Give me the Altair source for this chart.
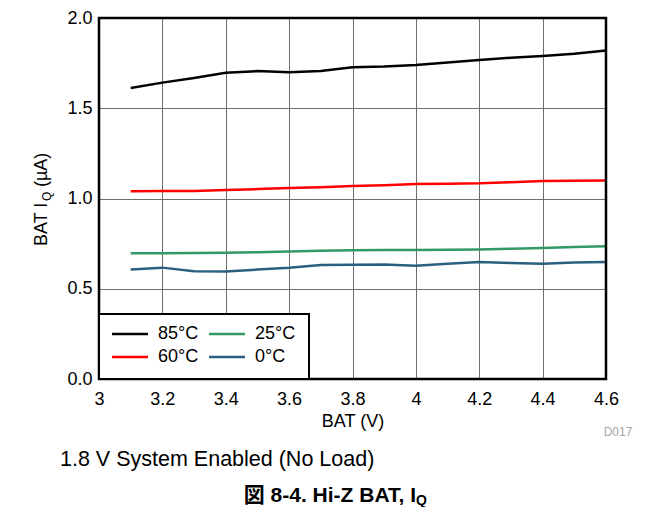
import altair as alt
import pandas as pd

# ---------------- data ----------------
bat_v = [3.1, 3.2, 3.3, 3.4, 3.5, 3.6, 3.7, 3.8, 3.9, 4.0, 4.1, 4.2, 4.3, 4.4, 4.5, 4.6]
iq_85 = [1.612, 1.642, 1.668, 1.697, 1.706, 1.700, 1.706, 1.727, 1.731, 1.740, 1.754, 1.767, 1.780, 1.790, 1.802, 1.820]
iq_60 = [1.040, 1.041, 1.042, 1.047, 1.052, 1.058, 1.063, 1.069, 1.073, 1.080, 1.082, 1.084, 1.090, 1.097, 1.098, 1.100]
iq_25 = [0.696, 0.697, 0.698, 0.700, 0.702, 0.707, 0.710, 0.713, 0.715, 0.715, 0.716, 0.718, 0.722, 0.726, 0.731, 0.735]
iq_0 = [0.606, 0.617, 0.597, 0.595, 0.606, 0.617, 0.632, 0.633, 0.635, 0.628, 0.639, 0.648, 0.643, 0.639, 0.646, 0.648]

temps = ["85°C", "25°C", "60°C", "0°C"]
colors = ["#000000", "#339966", "#ff0000", "#2b5f7f"]
x_ticks = [3, 3.2, 3.4, 3.6, 3.8, 4, 4.2, 4.4, 4.6]
y_ticks = [0, 0.5, 1.0, 1.5, 2.0]

series = {"85°C": iq_85, "60°C": iq_60, "25°C": iq_25, "0°C": iq_0}
rows = []
for name, vals in series.items():
    for v, i in zip(bat_v, vals):
        rows.append({"bat": v, "iq": i, "temp": name})
df = pd.DataFrame(rows)

FONT = "Liberation Sans, Arial, Helvetica, Noto Sans CJK JP, sans-serif"
W, H = 507, 361

# ---------------- main lines ----------------
lines = alt.Chart(df).mark_line(strokeWidth=2.5).encode(
    x=alt.X("bat:Q",
            scale=alt.Scale(domain=[x_ticks[0], x_ticks[-1]], nice=False, zero=False),
            axis=alt.Axis(values=x_ticks, format="~g", title="BAT (V)",
                          labelPadding=11, titlePadding=4, labelFlush=False)),
    y=alt.Y("iq:Q",
            scale=alt.Scale(domain=[y_ticks[0], y_ticks[-1]], nice=False),
            axis=alt.Axis(values=y_ticks, format=".1f", title=None, labelPadding=7)),
    color=alt.Color("temp:N", scale=alt.Scale(domain=temps, range=colors), legend=None),
)

anno = pd.DataFrame({"a": [0]})

frame = alt.Chart(anno).mark_rect(fill="transparent", stroke="black", strokeWidth=2.5).encode(
    x=alt.value(0), x2=alt.value(W), y=alt.value(0), y2=alt.value(H)
)

# ---------------- legend (manual box) ----------------
leg_box = alt.Chart(anno).mark_rect(fill="white", stroke="black", strokeWidth=2).encode(
    x=alt.value(0), x2=alt.value(210), y=alt.value(296), y2=alt.value(361)
)
leg_rows = []
for k, (t, c) in enumerate(zip(temps, colors)):
    col, row = k % 2, k // 2
    lx = 13 + 97 * col
    ly = 316 + 23 * row
    leg_rows.append({"temp": t, "color": c, "lx": lx, "lx2": lx + 36, "tx": lx + 46, "ly": ly})
leg_df = pd.DataFrame(leg_rows)
leg_sym = alt.Chart(leg_df).mark_rule(strokeWidth=2.5).encode(
    x=alt.X("lx:Q", scale=None), x2="lx2:Q", y=alt.Y("ly:Q", scale=None),
    color=alt.Color("color:N", scale=None),
)
leg_txt = alt.Chart(leg_df).mark_text(align="left", baseline="middle", fontSize=18, font=FONT, color="black").encode(
    x=alt.X("tx:Q", scale=None), y=alt.Y("ly:Q", scale=None), text="temp:N"
)


def label(text, x, y, size, weight="normal", align="left", angle=0, color="black"):
    return alt.Chart(anno).mark_text(
        fontSize=size, fontWeight=weight, align=align, baseline="middle",
        angle=angle, font=FONT, color=color
    ).encode(x=alt.value(x), y=alt.value(y), text=alt.value(text))


texts = [
    label("BAT I", -57, 228, 18, angle=270),
    label("Q", -52, 183, 12, angle=270),
    label("(µA)", -57, 169, 18, angle=270),
    label("D017", 519, 414, 12, align="center", color="#a6a6a6"),
    label("1.8 V System Enabled (No Load)", -39, 442, 21.5),
    label("図 8-4. Hi-Z BAT, I", 317, 478, 21, weight="bold", align="right"),
    label("Q", 317, 483, 14, weight="bold"),
]

chart = alt.layer(lines, frame, leg_box, leg_sym, leg_txt, *texts).properties(
    width=W, height=H,
    autosize=alt.AutoSizeParams(type="none"),
    padding={"left": 91, "top": 10, "right": 45, "bottom": 128},
).configure_view(stroke=None).configure_axis(
    labelFont=FONT, labelFontSize=18, labelColor="black",
    titleFont=FONT, titleFontSize=18, titleFontWeight="normal", titleColor="black",
    gridColor="#6e6e6e", gridWidth=1, domain=False, ticks=False,
)

chart.save("out.html", embed_options={"renderer": "svg", "actions": False})
